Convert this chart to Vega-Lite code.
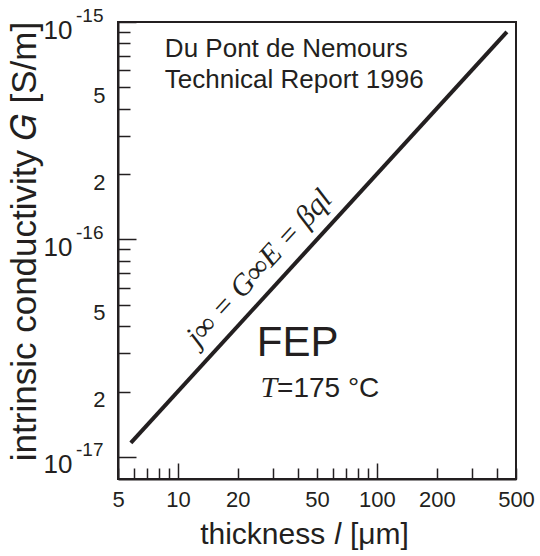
{
  "$schema": "https://vega.github.io/schema/vega-lite/v6.json",
  "width": 398,
  "height": 457,
  "autosize": {"type": "none"},
  "padding": {"left": 118, "top": 22, "right": 24, "bottom": 77},
  "background": "white",
  "datasets": {
    "conductivity": [
      {"l": 5.8, "G": 1.16e-17},
      {"l": 450, "G": 9.0e-16}
    ],
    "source": [
      {"l": 8.6, "G": 6.9e-16, "text": "Du Pont de Nemours"},
      {"l": 8.6, "G": 4.97e-16, "text": "Technical Report 1996"}
    ],
    "law": [
      {"l": 25.6, "G": 7.4e-17, "text": "j∞ = G∞E = βql"}
    ],
    "material": [
      {"l": 40, "G": 2.9e-17, "text": "FEP"}
    ],
    "temperature": [
      {"l": 31.5, "G": 1.88e-17, "symbol": "T", "value": "=175 °C"}
    ]
  },
  "encoding": {
    "x": {
      "field": "l",
      "type": "quantitative",
      "scale": {"type": "log", "domain": [5, 500], "nice": false},
      "axis": {
        "values": [5, 6, 7, 8, 9, 10, 20, 30, 40, 50, 60, 70, 80, 90, 100, 200, 300, 400, 500],
        "labelExpr": "indexof([5, 10, 20, 50, 100, 200, 500], datum.value) >= 0 ? datum.label : ''",
        "tickSize": {"condition": {"test": "datum.value === 10 || datum.value === 100", "value": -16}, "value": -11},
        "labelPadding": {"condition": {"test": "datum.value === 10 || datum.value === 100", "value": 26}, "value": 21},
        "labelFontSize": 22,
        "labelFlush": false,
        "labelOverlap": false,
        "title": "thickness 𝑙 [μm]",
        "titleFontSize": 30,
        "titlePadding": 9,
        "titleX": 186
      }
    }
  },
  "layer": [
    {
      "data": {"name": "conductivity"},
      "mark": {"type": "line", "color": "#231f20", "strokeWidth": 4, "strokeCap": "butt"},
      "encoding": {
        "y": {
          "field": "G",
          "type": "quantitative",
          "scale": {"type": "log", "domain": [7.92e-18, 1e-15], "nice": false},
          "axis": {
            "orient": "left",
            "values": [1e-17, 2e-17, 3e-17, 4e-17, 5e-17, 6e-17, 7e-17, 8e-17, 9e-17, 1e-16, 2e-16, 3e-16, 4e-16, 5e-16, 6e-16, 7e-16, 8e-16, 9e-16, 1e-15],
            "labelExpr": "slice(format(datum.value, '.0e'), 0, 1) === '1' ? '10' : (indexof(['2', '5'], slice(format(datum.value, '.0e'), 0, 1)) >= 0 ? slice(format(datum.value, '.0e'), 0, 1) : '')",
            "tickSize": {"condition": {"test": "slice(format(datum.value, '.0e'), 0, 1) === '1'", "value": -18}, "value": -12},
            "labelPadding": {"condition": {"test": "slice(format(datum.value, '.0e'), 0, 1) === '1'", "value": 64}, "value": 25},
            "labelFontSize": {"condition": {"test": "slice(format(datum.value, '.0e'), 0, 1) === '1'", "value": 26}, "value": 22},
            "labelOffset": 8,
            "labelOverlap": false,
            "labelFlush": false,
            "title": "intrinsic conductivity 𝐺 [S/m]",
            "titleFontSize": 35,
            "titlePadding": 1,
            "titleY": 219
          }
        }
      }
    },
    {
      "data": {"name": "law"},
      "mark": {"type": "text", "font": "Liberation Serif", "fontStyle": "italic", "fontSize": 30, "angle": 312.5, "align": "center", "baseline": "middle", "color": "#231f20"},
      "encoding": {
        "y": {
          "field": "G",
          "type": "quantitative",
          "scale": {"type": "log", "domain": [7.92e-18, 1e-15], "nice": false},
          "axis": {
            "orient": "left",
            "values": [1e-17, 1e-16, 1e-15],
            "labelExpr": "'-' + slice(format(datum.value, '.0e'), 3)",
            "ticks": false,
            "domain": false,
            "labelPadding": 15,
            "labelFontSize": 19,
            "labelOffset": -7,
            "labelOverlap": false,
            "labelFlush": false,
            "title": null
          }
        },
        "text": {"field": "text"}
      }
    },
    {
      "data": {"name": "source"},
      "mark": {"type": "text", "font": "Liberation Sans", "fontSize": 26, "align": "left", "baseline": "alphabetic", "color": "#231f20"},
      "encoding": {
        "y": {"field": "G", "type": "quantitative", "scale": {"type": "log", "domain": [7.92e-18, 1e-15], "nice": false}, "axis": null},
        "text": {"field": "text"}
      }
    },
    {
      "data": {"name": "material"},
      "mark": {"type": "text", "font": "Liberation Sans", "fontSize": 42, "align": "center", "baseline": "alphabetic", "color": "#231f20"},
      "encoding": {
        "y": {"field": "G", "type": "quantitative", "scale": {"type": "log", "domain": [7.92e-18, 1e-15], "nice": false}, "axis": null},
        "text": {"field": "text"}
      }
    },
    {
      "data": {"name": "temperature"},
      "mark": {"type": "text", "font": "Liberation Serif", "fontStyle": "italic", "fontSize": 30, "align": "right", "baseline": "alphabetic", "color": "#231f20"},
      "encoding": {
        "y": {"field": "G", "type": "quantitative", "scale": {"type": "log", "domain": [7.92e-18, 1e-15], "nice": false}, "axis": null},
        "text": {"field": "symbol"}
      }
    },
    {
      "data": {"name": "temperature"},
      "mark": {"type": "text", "font": "Liberation Sans", "fontSize": 28, "align": "left", "baseline": "alphabetic", "color": "#231f20"},
      "encoding": {
        "y": {"field": "G", "type": "quantitative", "scale": {"type": "log", "domain": [7.92e-18, 1e-15], "nice": false}, "axis": null},
        "text": {"field": "value"}
      }
    }
  ],
  "resolve": {"axis": {"y": "independent"}},
  "config": {
    "view": {"stroke": "#231f20", "strokeWidth": 2},
    "axis": {
      "grid": false,
      "domainColor": "#231f20",
      "domainWidth": 2,
      "tickColor": "#231f20",
      "tickWidth": 1.5,
      "labelColor": "#231f20",
      "titleColor": "#231f20",
      "labelFont": "Liberation Sans",
      "titleFont": "Liberation Sans",
      "titleFontWeight": "normal"
    }
  }
}
